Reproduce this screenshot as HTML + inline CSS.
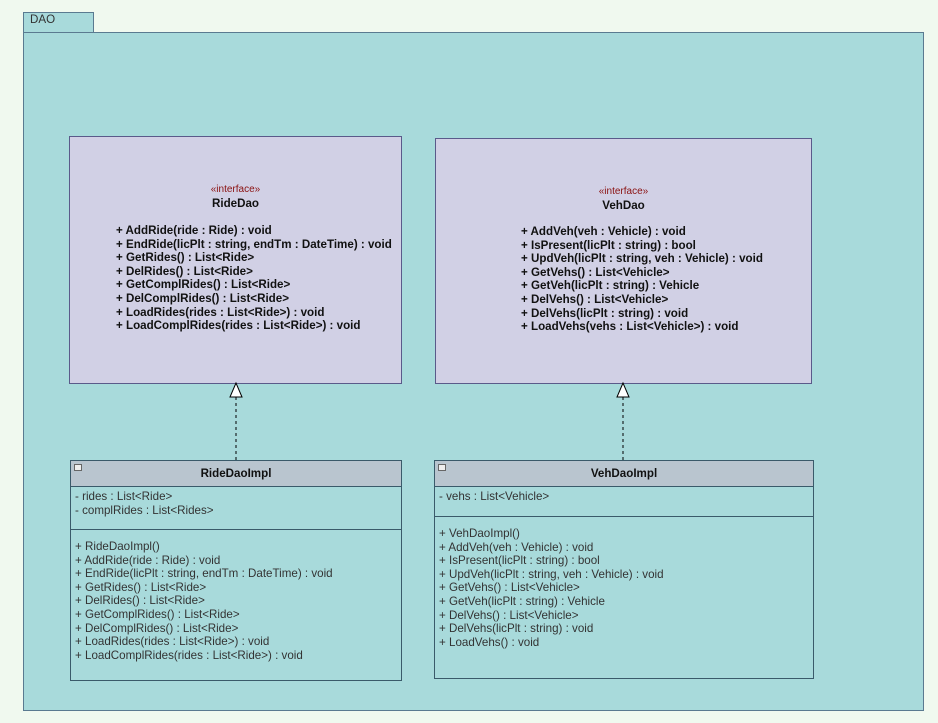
<!DOCTYPE html>
<html><head><style>
body{margin:0;width:938px;height:723px;background:#f0f9ef;font-family:"Liberation Sans",sans-serif;position:relative;overflow:hidden}
.a{position:absolute;box-sizing:border-box}
.t{position:absolute;font-size:11.6px;line-height:13.6px;color:#111;white-space:pre}
.b{font-weight:bold}
.st{color:#8a1010;font-size:10px}
</style></head><body>
<div class="a" style="left:23px;top:12px;width:71px;height:21px;background:#a8dadb;border:1px solid #5a7a90"></div>
<div class="t" style="left:30px;top:13px;color:#333">DAO</div>
<div class="a" style="left:23px;top:32px;width:901px;height:679px;background:#a8dadb;border:1px solid #5a7a90"></div>

<div class="a" style="left:69px;top:136px;width:333px;height:248px;background:#d1d0e5;border:1px solid #5a5a8a"></div>
<div class="t st" style="left:69px;width:333px;text-align:center;top:183px">«interface»</div>
<div class="t b" style="left:69px;width:333px;text-align:center;top:197px">RideDao</div>
<div class="t b" style="left:116px;top:224px">+ AddRide(ride : Ride) : void
+ EndRide(licPlt : string, endTm : DateTime) : void
+ GetRides() : List&lt;Ride&gt;
+ DelRides() : List&lt;Ride&gt;
+ GetComplRides() : List&lt;Ride&gt;
+ DelComplRides() : List&lt;Ride&gt;
+ LoadRides(rides : List&lt;Ride&gt;) : void
+ LoadComplRides(rides : List&lt;Ride&gt;) : void</div>

<div class="a" style="left:435px;top:138px;width:377px;height:246px;background:#d1d0e5;border:1px solid #5a5a8a"></div>
<div class="t st" style="left:435px;width:377px;text-align:center;top:185px">«interface»</div>
<div class="t b" style="left:435px;width:377px;text-align:center;top:199px">VehDao</div>
<div class="t b" style="left:521px;top:225px">+ AddVeh(veh : Vehicle) : void
+ IsPresent(licPlt : string) : bool
+ UpdVeh(licPlt : string, veh : Vehicle) : void
+ GetVehs() : List&lt;Vehicle&gt;
+ GetVeh(licPlt : string) : Vehicle
+ DelVehs() : List&lt;Vehicle&gt;
+ DelVehs(licPlt : string) : void
+ LoadVehs(vehs : List&lt;Vehicle&gt;) : void</div>

<svg class="a" style="left:0;top:0" width="938" height="723">
<line x1="236" y1="397" x2="236" y2="460" stroke="#000" stroke-dasharray="3,3"/>
<polygon points="236,383 230,397 242,397" fill="#fff" stroke="#000"/>
<line x1="623" y1="397" x2="623" y2="460" stroke="#000" stroke-dasharray="3,3"/>
<polygon points="623,383 617,397 629,397" fill="#fff" stroke="#000"/>
</svg>

<div class="a" style="left:70px;top:460px;width:332px;height:221px;background:#a8dadb;border:1px solid #3a5a6a"></div>
<div class="a" style="left:70px;top:460px;width:332px;height:27px;background:#b9c5cf;border:1px solid #3a5a6a"></div>
<div class="a" style="left:74px;top:464px;width:8px;height:7px;border:1px solid #666;background:#eee"></div>
<div class="t b" style="left:70px;width:332px;text-align:center;top:467px">RideDaoImpl</div>
<div class="t" style="left:75px;top:490px;color:#333">- rides : List&lt;Ride&gt;
- complRides : List&lt;Rides&gt;</div>
<div class="a" style="left:70px;top:529px;width:332px;height:1px;background:#3a5a6a"></div>
<div class="t" style="left:75px;top:540px;color:#333">+ RideDaoImpl()
+ AddRide(ride : Ride) : void
+ EndRide(licPlt : string, endTm : DateTime) : void
+ GetRides() : List&lt;Ride&gt;
+ DelRides() : List&lt;Ride&gt;
+ GetComplRides() : List&lt;Ride&gt;
+ DelComplRides() : List&lt;Ride&gt;
+ LoadRides(rides : List&lt;Ride&gt;) : void
+ LoadComplRides(rides : List&lt;Ride&gt;) : void</div>

<div class="a" style="left:434px;top:460px;width:380px;height:219px;background:#a8dadb;border:1px solid #3a5a6a"></div>
<div class="a" style="left:434px;top:460px;width:380px;height:27px;background:#b9c5cf;border:1px solid #3a5a6a"></div>
<div class="a" style="left:438px;top:464px;width:8px;height:7px;border:1px solid #666;background:#eee"></div>
<div class="t b" style="left:434px;width:380px;text-align:center;top:467px">VehDaoImpl</div>
<div class="t" style="left:439px;top:490px;color:#333">- vehs : List&lt;Vehicle&gt;</div>
<div class="a" style="left:434px;top:516px;width:380px;height:1px;background:#3a5a6a"></div>
<div class="t" style="left:439px;top:527px;color:#333">+ VehDaoImpl()
+ AddVeh(veh : Vehicle) : void
+ IsPresent(licPlt : string) : bool
+ UpdVeh(licPlt : string, veh : Vehicle) : void
+ GetVehs() : List&lt;Vehicle&gt;
+ GetVeh(licPlt : string) : Vehicle
+ DelVehs() : List&lt;Vehicle&gt;
+ DelVehs(licPlt : string) : void
+ LoadVehs() : void</div>
</body></html>
